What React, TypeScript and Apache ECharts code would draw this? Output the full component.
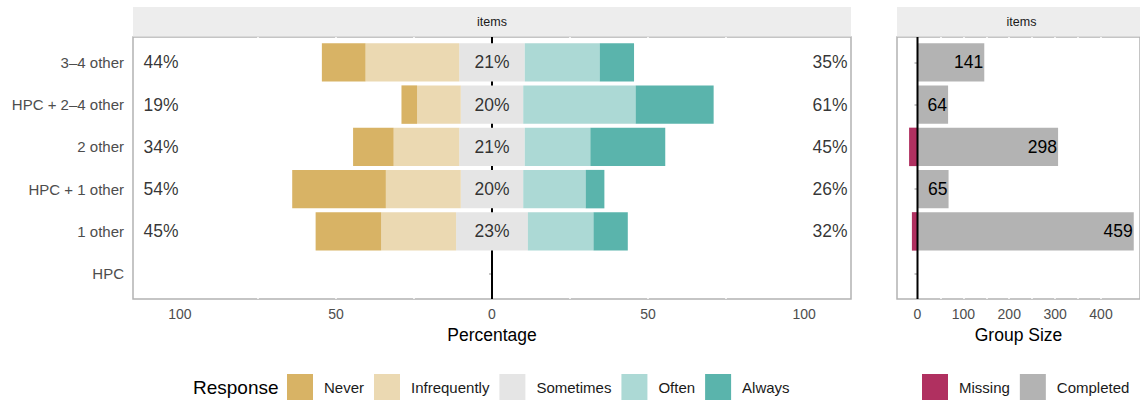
import React, { useEffect, useRef } from "react";
import * as echarts from "echarts";

// ---------------- data ----------------
const groups = ["3–4 other", "HPC + 2–4 other", "2 other", "HPC + 1 other", "1 other", "HPC"];
const responses = ["Never", "Infrequently", "Sometimes", "Often", "Always"];
const never = [14, 5, 13, 30, 21, null];
const infrequently = [30, 14, 21, 24, 24, null];
const sometimes = [21, 20, 21, 20, 23, null];
const often = [24, 36, 21, 20, 21, null];
const always = [11, 25, 24, 6, 11, null];
const missing = [0, 0, 19, 0, 13, null];
const completed = [141, 64, 298, 65, 459, null];
const pctLabels = [-100, -50, 0, 50, 100];
const pctGridVals = [-100, -75, -50, -25, 0, 25, 50, 75, 100];
const sizeLabels = [0, 100, 200, 300, 400];
const sizeGridVals = [0, 50, 100, 150, 200, 250, 300, 350, 400, 450];

const COLORS: Record<string, string> = {
  Never: "#D8B365",
  Infrequently: "#EBD9B2",
  Sometimes: "#E5E5E5",
  Often: "#ACD9D5",
  Always: "#5AB4AC",
  Missing: "#B03060",
  Completed: "#B3B3B3",
};

const FONT = "'Liberation Sans', Arial, Helvetica, sans-serif";

export default function App() {
  const ref = useRef<HTMLDivElement>(null);
  useEffect(() => {
    if (!ref.current) return;
    const chart = echarts.init(ref.current, undefined, { renderer: "svg" });

    const panelTop = 37;
    const panelH = 262;
    const dataTop = panelTop + (panelH * 0.1) / 6.2;
    const dataH = (panelH * 6) / 6.2;
    const L = { left: 133, width: 718 };
    const R = { left: 897, width: 243 };
    const rMin = -44.7;
    const rMax = 472.3;
    const rFrameW = R.width + 6;
    const rFrameMax = rMax + 6 / 0.47;

    const neg = (a: (number | null)[], f = 1) => a.map((v) => (v == null ? null : -v * f));
    const pos = (a: (number | null)[], f = 1) => a.map((v) => (v == null ? null : v * f));
    const leftPct = never.map((v, i) => (v == null ? null : v + (infrequently[i] as number)));
    const rightPct = often.map((v, i) => (v == null ? null : v + (always[i] as number)));

    const labelSeries = (x: number, vals: (number | null)[], position: string, distance: number) => ({
      type: "scatter",
      xAxisIndex: 1,
      yAxisIndex: 1,
      symbolSize: 1,
      itemStyle: { color: "rgba(0,0,0,0)" },
      silent: true,
      z: 5,
      data: vals
        .map((v, i) => (v == null ? null : { value: [x, groups[i]], label: { formatter: `${v}%` } }))
        .filter((d) => d != null),
      label: { show: true, position, distance, fontSize: 17.5, color: "#000", fontFamily: FONT },
    });

    const barBase = {
      type: "bar",
      xAxisIndex: 1,
      yAxisIndex: 1,
      stack: "likert",
      barWidth: "91%",
    };

    const axisLabelStyle = { color: "#4D4D4D", fontSize: 14, fontFamily: FONT };
    const legendText = { fontSize: 15, color: "#1A1A1A", fontFamily: FONT, padding: [0, 0, 0, 6] };

    const option: any = {
      animation: false,
      textStyle: { fontFamily: FONT },
      grid: [
        { left: L.left, top: panelTop, width: L.width, height: panelH, show: true, borderColor: "#B3B3B3", borderWidth: 1.5, backgroundColor: "#fff" },
        { left: L.left, top: dataTop, width: L.width, height: dataH },
        { left: R.left, top: panelTop, width: rFrameW, height: panelH, show: true, borderColor: "#B3B3B3", borderWidth: 1.5, backgroundColor: "#fff" },
        { left: R.left, top: dataTop, width: R.width, height: dataH },
      ],
      xAxis: [
        {
          type: "value", gridIndex: 0, min: -115, max: 115,
          axisLine: { show: false },
          axisTick: { show: false, customValues: pctGridVals },
          axisLabel: { ...axisLabelStyle, margin: 8, customValues: pctLabels, formatter: (v: number) => String(Math.abs(v)) },
          splitLine: { show: true, showMinLine: false, showMaxLine: false, lineStyle: { color: "#fff", width: 1.5 } },
          name: "Percentage", nameLocation: "middle", nameGap: 19,
          nameTextStyle: { fontSize: 17.5, color: "#000", fontFamily: FONT },
        },
        { type: "value", gridIndex: 1, min: -115, max: 115, show: false },
        {
          type: "value", gridIndex: 2, min: rMin, max: rFrameMax,
          axisLine: { show: false },
          axisTick: { show: false, customValues: sizeGridVals },
          axisLabel: { ...axisLabelStyle, margin: 8, customValues: sizeLabels },
          splitLine: { show: true, showMinLine: false, showMaxLine: false, lineStyle: { color: "#fff", width: 1.5 } },
          name: "Group Size", nameLocation: "middle", nameGap: 19,
          nameTextStyle: { fontSize: 17.5, color: "#000", fontFamily: FONT },
        },
        { type: "value", gridIndex: 3, min: rMin, max: rMax, show: false },
      ],
      yAxis: [
        {
          type: "value", gridIndex: 0, min: 0.4, max: 6.6, inverse: true,
          axisLine: { show: false }, axisLabel: { show: false }, splitLine: { show: false },
          axisTick: { show: true, length: 3, customValues: [1, 2, 3, 4, 5, 6], lineStyle: { color: "#B3B3B3", width: 1.5 } },
        },
        {
          type: "category", gridIndex: 1, data: groups, inverse: true,
          axisLine: { show: false }, axisTick: { show: false }, splitLine: { show: false },
          axisLabel: { ...axisLabelStyle, fontSize: 15, margin: 9 },
        },
        {
          type: "value", gridIndex: 2, min: 0.4, max: 6.6, inverse: true,
          axisLine: { show: false }, axisLabel: { show: false }, splitLine: { show: false },
          axisTick: { show: true, length: 3, customValues: [1, 2, 3, 4, 5, 6], lineStyle: { color: "#B3B3B3", width: 1.5 } },
        },
        { type: "category", gridIndex: 3, data: groups, inverse: true, show: false },
      ],
      legend: [
        {
          data: responses, left: 282, top: 369, itemWidth: 26, itemHeight: 26, itemGap: 10, icon: "rect",
          selectedMode: false, textStyle: legendText,
        },
        {
          data: ["Missing", "Completed"], left: 917, top: 369, itemWidth: 26, itemHeight: 26, itemGap: 10, icon: "rect",
          selectedMode: false, textStyle: legendText,
        },
      ],
      graphic: [
        { type: "rect", silent: true, shape: { x: L.left, y: 7, width: L.width, height: 29.5 }, style: { fill: "#EDEDED" } },
        { type: "rect", silent: true, shape: { x: R.left, y: 7, width: rFrameW, height: 29.5 }, style: { fill: "#EDEDED" } },
        { type: "text", silent: true, x: L.left + L.width / 2, y: 22, style: { text: "items", fill: "#1A1A1A", font: `12.5px ${FONT}`, align: "center", verticalAlign: "middle" } },
        { type: "text", silent: true, x: R.left + rFrameW / 2, y: 22, style: { text: "items", fill: "#1A1A1A", font: `12.5px ${FONT}`, align: "center", verticalAlign: "middle" } },
        { type: "text", silent: true, x: 193, y: 387, style: { text: "Response", fill: "#000", font: `19px ${FONT}`, align: "left", verticalAlign: "middle" } },
      ],
      series: [
        {
          type: "line", xAxisIndex: 0, yAxisIndex: 0, z: 1, silent: true, symbol: "none",
          data: [[0, 0.4], [0, 6.6]], lineStyle: { color: "#000", width: 2 },
        },
        { ...barBase, name: "Sometimes", data: neg(sometimes, 0.5), itemStyle: { color: COLORS.Sometimes } },
        { ...barBase, name: "Sometimes", data: pos(sometimes, 0.5), itemStyle: { color: COLORS.Sometimes } },
        { ...barBase, name: "Infrequently", data: neg(infrequently), itemStyle: { color: COLORS.Infrequently } },
        { ...barBase, name: "Often", data: pos(often), itemStyle: { color: COLORS.Often } },
        { ...barBase, name: "Never", data: neg(never), itemStyle: { color: COLORS.Never } },
        { ...barBase, name: "Always", data: pos(always), itemStyle: { color: COLORS.Always } },
        labelSeries(-115, leftPct, "right", 10),
        labelSeries(115, rightPct, "left", 3),
        labelSeries(0, sometimes, "inside", 0),
        {
          type: "bar", name: "Missing", xAxisIndex: 3, yAxisIndex: 3, stack: "size", barWidth: "91%",
          data: missing.map((v) => (v ? -v : null)), itemStyle: { color: COLORS.Missing },
        },
        {
          type: "bar", name: "Completed", xAxisIndex: 3, yAxisIndex: 3, stack: "size", barWidth: "91%",
          data: completed, itemStyle: { color: COLORS.Completed },
          label: { show: true, position: "insideRight", distance: 1, fontSize: 17.5, color: "#000", fontFamily: FONT },
        },
        {
          type: "line", xAxisIndex: 2, yAxisIndex: 2, z: 4, silent: true, symbol: "none",
          data: [[0, 0.4], [0, 6.6]], lineStyle: { color: "#000", width: 2 },
        },
      ],
    };

    chart.setOption(option);
    return () => chart.dispose();
  }, []);

  return (
    <div
      ref={ref}
      style={{ position: "absolute", left: 0, top: 0, width: 1140, height: 401, background: "#fff" }}
    />
  );
}
